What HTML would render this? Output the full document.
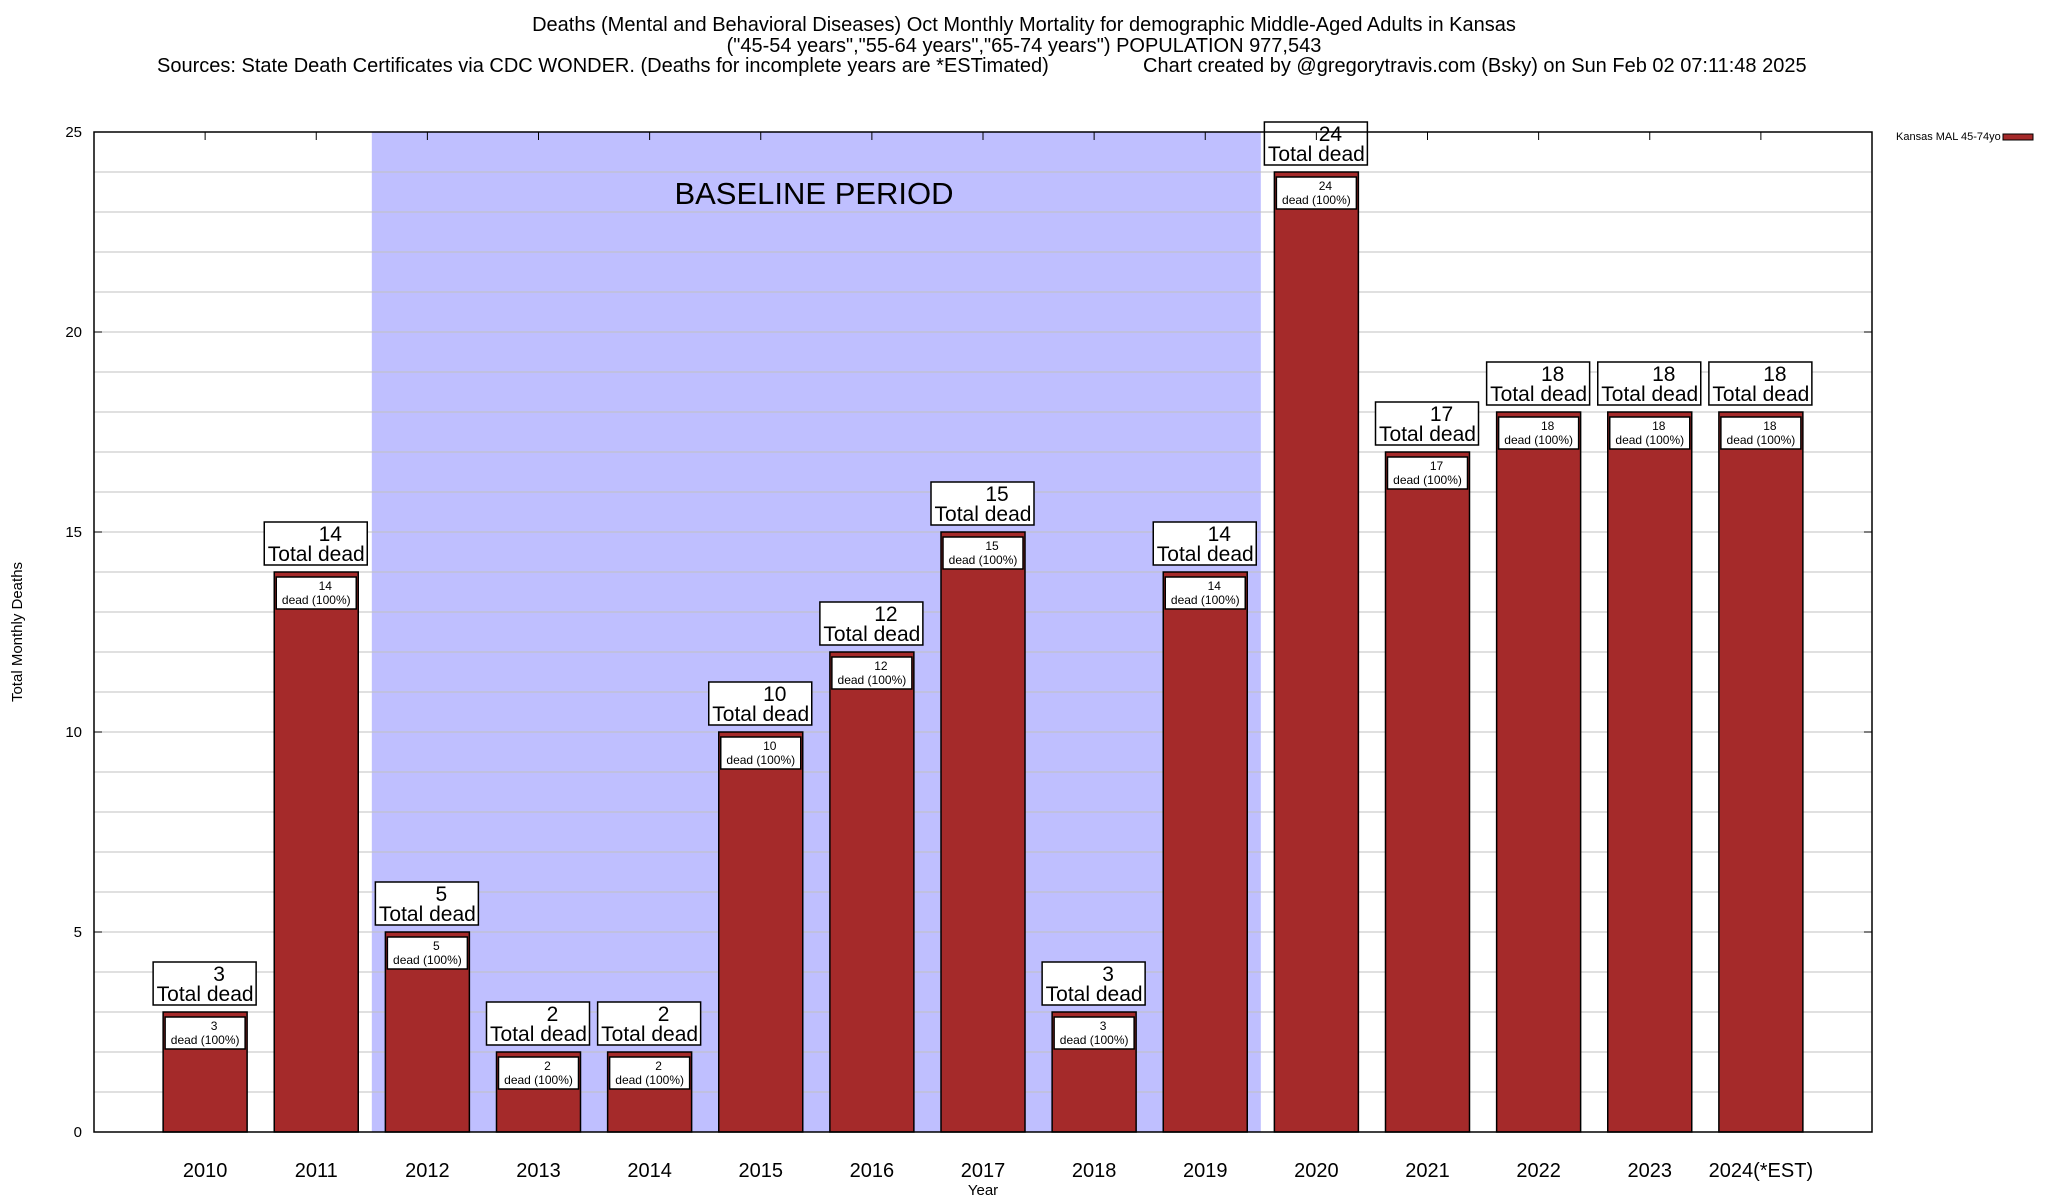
<!DOCTYPE html>
<html><head><meta charset="utf-8"><style>
html,body{margin:0;padding:0;background:#fff;}
svg{display:block;font-family:"Liberation Sans",Arial,sans-serif;}
</style></head><body>
<svg id="chart" width="2048" height="1200" viewBox="0 0 2048 1200">
<text x="1024" y="31" text-anchor="middle" font-size="20">Deaths (Mental and Behavioral Diseases) Oct Monthly Mortality for demographic Middle-Aged Adults in Kansas</text>
<text x="1024" y="52" text-anchor="middle" font-size="20">("45-54 years","55-64 years","65-74 years") POPULATION 977,543</text>
<text x="157" y="72" font-size="20">Sources: State Death Certificates via CDC WONDER. (Deaths for incomplete years are *ESTimated)</text>
<text x="1143" y="72" font-size="20">Chart created by @gregorytravis.com (Bsky) on Sun Feb 02 07:11:48 2025</text>
<g id="plot"></g>
<text x="983" y="1195" text-anchor="middle" font-size="15">Year</text>
<text transform="translate(22,632) rotate(-90)" text-anchor="middle" font-size="15">Total Monthly Deaths</text>
<text x="1896" y="140" font-size="11">Kansas MAL 45-74yo</text>
<rect x="2003" y="134" width="30" height="6" fill="#a52a2a" stroke="#000" stroke-width="1"/>
</svg>
<script>
const categories = ["2010","2011","2012","2013","2014","2015","2016","2017","2018","2019","2020","2021","2022","2023","2024(*EST)"];
const deaths = [3,14,5,2,2,10,12,15,3,14,24,17,18,18,18];
const yTicks = [0,5,10,15,20,25];
const baselineStart = 1.5, baselineEnd = 9.5;

const L=94,R=1872,T=132,B=1132,yMax=25;
const step=(R-L)/16;
const xPos=i=>L+(i+1)*step;
const yPos=v=>B-(v/yMax)*(B-T);
const NS="http://www.w3.org/2000/svg";
const g=document.getElementById('plot');
function mk(tag,attrs,parent){const e=document.createElementNS(NS,tag);for(const k in attrs)e.setAttribute(k,attrs[k]);(parent||g).appendChild(e);return e;}

let bp=mk('rect',{x:xPos(baselineStart),y:T,width:xPos(baselineEnd)-xPos(baselineStart),height:B-T,fill:'#bfbfff'});


for(let v=1;v<yMax;v++){
  let ln=mk('line',{x1:L,x2:R,y1:yPos(v),y2:yPos(v),stroke:'#c0c0c0','stroke-width':1});
  
  
}
let bt=mk('text',{x:814,y:204,'text-anchor':'middle','font-size':31});
bt.textContent='BASELINE PERIOD';


yTicks.forEach(v=>{
  let t=mk('text',{x:82,y:yPos(v)+5,'text-anchor':'end','font-size':15});
  t.textContent=v;
  
  
  mk('line',{x1:L,x2:L+8,y1:yPos(v),y2:yPos(v),stroke:'#000'});
  mk('line',{x1:R-8,x2:R,y1:yPos(v),y2:yPos(v),stroke:'#000'});
});
const bw=84;
categories.forEach((c,i)=>{
  const cx=xPos(i),v=deaths[i],top=yPos(v);
  let b=mk('rect',{x:cx-bw/2,y:top,width:bw,height:B-top,fill:'#a52a2a',stroke:'#000','stroke-width':1.5});
  
  
  let ib=mk('rect',{x:cx-40,y:top+5,width:80,height:32,fill:'#fff',stroke:'#000','stroke-width':1.5});
  
  
  let t1=mk('text',{x:cx+9,y:top+18,'text-anchor':'middle','font-size':12});t1.textContent=v;
  
  
  let t2=mk('text',{x:cx,y:top+32,'text-anchor':'middle','font-size':12});t2.textContent='dead (100%)';
  
  
  let ob=mk('rect',{x:cx-52,y:top-50,width:103,height:43,fill:'#fff',stroke:'#000','stroke-width':1.5});
  
  
  let o1=mk('text',{x:cx+14,y:top-31,'text-anchor':'middle','font-size':21});o1.textContent=v;
  
  
  let o2=mk('text',{x:cx,y:top-11,'text-anchor':'middle','font-size':21});o2.textContent='Total dead';
  
  
  let xl=mk('text',{x:cx,y:1177,'text-anchor':'middle','font-size':20});xl.textContent=c;
  
  
  mk('line',{x1:cx,x2:cx,y1:T,y2:T+8,stroke:'#000'});
});
let fr=mk('rect',{x:L,y:T,width:R-L,height:B-T,fill:'none',stroke:'#000','stroke-width':1.5});


</script>
</body></html>
